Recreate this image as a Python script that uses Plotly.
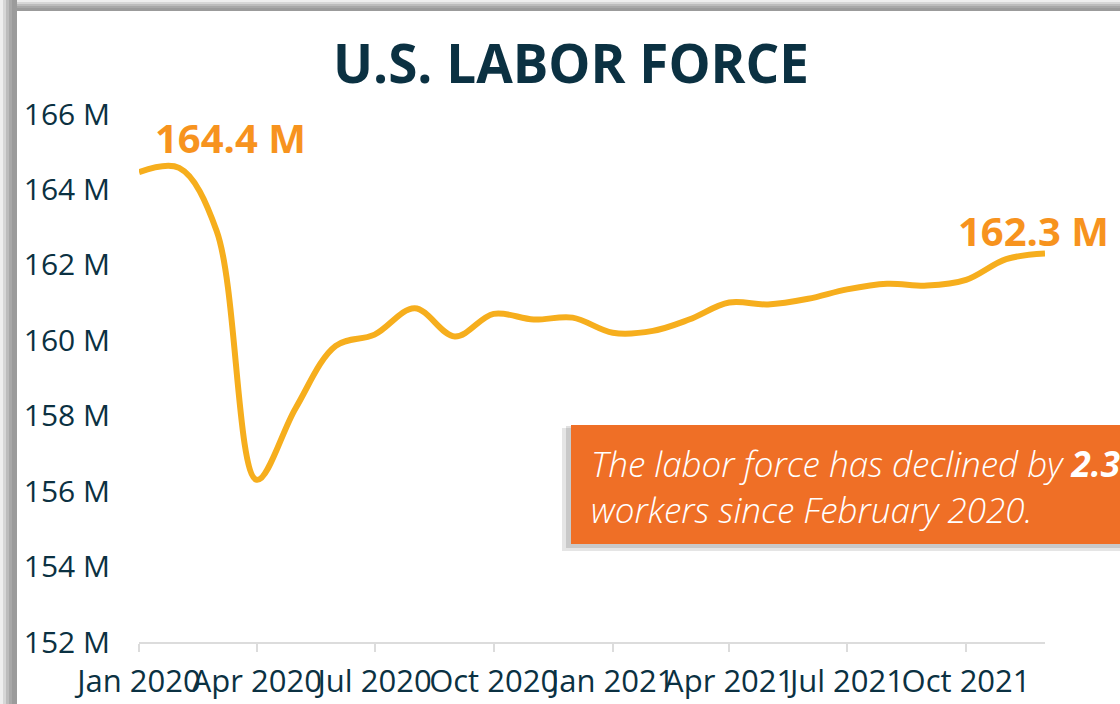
import plotly.graph_objects as go

# ---- data ----
months = ["2020-01-01", "2020-02-01", "2020-03-01", "2020-04-01", "2020-05-01", "2020-06-01",
          "2020-07-01", "2020-08-01", "2020-09-01", "2020-10-01", "2020-11-01", "2020-12-01",
          "2021-01-01", "2021-02-01", "2021-03-01", "2021-04-01", "2021-05-01", "2021-06-01",
          "2021-07-01", "2021-08-01", "2021-09-01", "2021-10-01", "2021-11-01", "2021-12-01"]
labor_force_m = [164.46, 164.57, 162.9, 156.3, 158.2, 159.85, 160.15, 160.85, 160.1, 160.7, 160.55, 160.6,
                 160.2, 160.25, 160.55, 161.0, 160.95, 161.1, 161.35, 161.5, 161.45, 161.6, 162.15, 162.3]
y_ticks = [152, 154, 156, 158, 160, 162, 164, 166]
y_tick_labels = ["152 M", "154 M", "156 M", "158 M", "160 M", "162 M", "164 M", "166 M"]
x_ticks = ["2020-01-01", "2020-04-01", "2020-07-01", "2020-10-01",
           "2021-01-01", "2021-04-01", "2021-07-01", "2021-10-01"]
x_tick_labels = ["Jan 2020", "Apr 2020", "Jul 2020", "Oct 2020",
                 "Jan 2021", "Apr 2021", "Jul 2021", "Oct 2021"]
title_text = "U.S. LABOR FORCE"
start_label = "164.4 M"
end_label = "162.3 M"
box_text = ("The labor force has declined by <b>2.3 million</b><br>"
            "workers since February 2020.")

W, H = 1120, 704
ML, MR, MT, MB = 139, 75, 114, 62
PW, PH = W - ML - MR, H - MT - MB

def px(xp):
    return (xp - ML) / PW

def py(yp):
    return (H - MB - yp) / PH

FONT = "Open Sans"
DARK = "#0B3142"
LINE = "#F6AE1D"
LABEL = "#F7931E"

fig = go.Figure()
fig.add_trace(go.Scatter(
    x=months, y=labor_force_m, mode="lines",
    line=dict(color=LINE, width=6, shape="spline", smoothing=1.0),
    hoverinfo="skip", showlegend=False,
))

shapes = []
# grey card frame (top then left band)
frame_top = [(0, 2, "#eeeeee"), (2, 4, "#d6d6d6"), (4, 6, "#bcbcbc"), (6, 8, "#a8a8a8"), (8, 11, "#9b9b9b")]
for a, b, c in frame_top:
    shapes.append(dict(type="rect", xref="paper", yref="paper", x0=px(0), x1=px(W + 5),
                       y0=py(b), y1=py(a), fillcolor=c, line=dict(width=0), layer="below"))
frame_left = [(0, 3, "#eeeeee"), (3, 6, "#d6d6d6"), (6, 9, "#bcbcbc"), (9, 12, "#a8a8a8"), (12, 17, "#9b9b9b")]
for a, b, c in frame_left:
    shapes.append(dict(type="rect", xref="paper", yref="paper", x0=px(a), x1=px(b), y0=py(H + 5), y1=py(0),
                       fillcolor=c, line=dict(width=0), layer="below"))

# orange call-out box with shadow
shapes.append(dict(type="rect", xref="paper", yref="paper", x0=px(562), x1=px(1140), y0=py(551), y1=py(428),
                   fillcolor="rgba(0,0,0,0.10)", line=dict(width=0), layer="above"))
shapes.append(dict(type="rect", xref="paper", yref="paper", x0=px(566), x1=px(1140), y0=py(548), y1=py(426),
                   fillcolor="rgba(0,0,0,0.12)", line=dict(width=0), layer="above"))
shapes.append(dict(type="rect", xref="paper", yref="paper", x0=px(571), x1=px(1140), y0=py(544), y1=py(425),
                   fillcolor="#EF6F26", line=dict(width=0), layer="above"))

annotations = [
    dict(text=title_text, xref="paper", yref="paper", x=px(571), y=py(62), xanchor="center", yanchor="middle",
         showarrow=False, font=dict(family=FONT, size=53, color=DARK, weight=700)),
    dict(text=start_label, x=months[0], y=labor_force_m[0], xref="x", yref="y",
         xanchor="left", yanchor="bottom", xshift=14, yshift=5, showarrow=False,
         font=dict(family=FONT, size=40, color=LABEL, weight=700)),
    dict(text=end_label, x=months[-1], y=labor_force_m[-1], xref="x", yref="y",
         xanchor="center", yanchor="bottom", xshift=-12, yshift=-6, showarrow=False,
         font=dict(family=FONT, size=40, color=LABEL, weight=700)),
    dict(text=box_text, xref="paper", yref="paper", x=px(589), y=py(486), xanchor="left", yanchor="middle",
         align="left", showarrow=False,
         font=dict(family=FONT, size=35, color="white", style="italic", weight=300)),
]

fig.update_layout(
    width=W, height=H,
    margin=dict(l=ML, r=MR, t=MT, b=MB, pad=0, autoexpand=False),
    paper_bgcolor="white", plot_bgcolor="white",
    shapes=shapes, annotations=annotations,
    showlegend=False,
    xaxis=dict(range=[months[0], months[-1]], tickvals=x_ticks, ticktext=x_tick_labels,
               tickangle=0, automargin=False,
               showgrid=False, zeroline=False, showline=True, linecolor="#dcdcdc", linewidth=2,
               ticks="outside", ticklen=8, tickwidth=2, tickcolor="#dcdcdc", ticklabelstandoff=3,
               tickfont=dict(family=FONT, size=31, color=DARK)),
    yaxis=dict(range=[152, 166], tickvals=y_ticks, ticktext=y_tick_labels, automargin=False,
               showgrid=False, zeroline=False, showline=False, ticks="",
               ticklabelstandoff=28,
               tickfont=dict(family=FONT, size=30, color=DARK)),
)

fig.write_html("out.html", config={"displayModeBar": False},
               post_script="document.body.style.margin='0px';")
